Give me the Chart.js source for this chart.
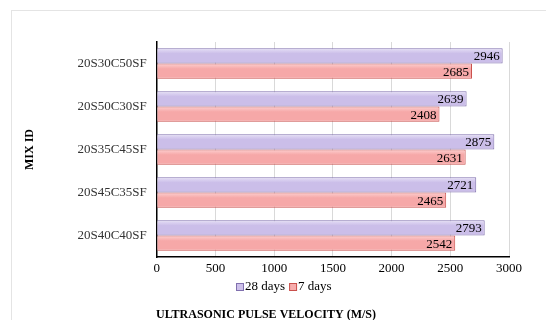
<!DOCTYPE html>
<html>
<head>
<meta charset="utf-8">
<script src="https://cdn.jsdelivr.net/npm/chart.js@4/dist/chart.umd.min.js"></script>
<style>
  html, body { margin: 0; padding: 0; background: #ffffff; }
  #wrap { width: 546px; height: 320px; position: relative; }
</style>
</head>
<body>
<div id="wrap"><canvas id="c" width="546" height="320"></canvas></div>
<script>
const mixIds = ['20S30C50SF', '20S50C30SF', '20S35C45SF', '20S45C35SF', '20S40C40SF'];
const days28 = [2946, 2639, 2875, 2721, 2793];
const days7 = [2685, 2408, 2631, 2465, 2542];
const xTicks = [0, 500, 1000, 1500, 2000, 2500, 3000];

const serif = '"Liberation Serif", "Times New Roman", serif';
const CAT_PCT = 0.71;

// Light frame around the whole figure
const framePlugin = {
  id: 'frame',
  beforeDraw(chart) {
    const ctx = chart.ctx;
    ctx.save();
    ctx.strokeStyle = '#e4e4e4';
    ctx.lineWidth = 1;
    ctx.strokeRect(11.5, 10.5, 700, 400);
    ctx.restore();
  }
};

// Value labels drawn inside the end of each bar
const valueLabels = {
  id: 'valueLabels',
  afterDatasetsDraw(chart) {
    const ctx = chart.ctx;
    ctx.save();
    ctx.font = '13px ' + serif;
    ctx.fillStyle = '#000';
    ctx.textAlign = 'right';
    ctx.textBaseline = 'middle';
    chart.data.datasets.forEach((ds, i) => {
      chart.getDatasetMeta(i).data.forEach((bar, j) => {
        ctx.fillText(String(ds.data[j]), bar.x - 3, bar.y + 1);
      });
    });
    ctx.restore();
  }
};

// Compact series key placed between the tick labels and the axis title
const seriesKey = {
  id: 'seriesKey',
  afterDraw(chart) {
    const ctx = chart.ctx;
    const box = 7, gapText = 1, gapItem = 5;
    ctx.save();
    ctx.font = '13px ' + serif;
    ctx.textBaseline = 'middle';
    ctx.textAlign = 'left';
    const items = chart.data.datasets.map(ds => ({
      text: ds.label, fill: ds.keyColor, stroke: ds.borderColor,
      w: box + gapText + ctx.measureText(ds.label).width
    }));
    const total = items.reduce((s, it) => s + it.w, 0) + gapItem * (items.length - 1);
    let x = Math.round(283 - total / 2);
    const y = Math.round(chart.chartArea.bottom + 29);
    items.forEach(it => {
      const top = Math.round(y - box / 2) + 0.5;
      ctx.fillStyle = it.fill;
      ctx.strokeStyle = it.stroke;
      ctx.lineWidth = 1;
      ctx.fillRect(x + 0.5, top, box, box);
      ctx.strokeRect(x + 0.5, top, box, box);
      ctx.fillStyle = '#000';
      ctx.fillText(it.text, x + box + gapText + 1, y + 1);
      x += it.w + gapItem;
    });
    ctx.restore();
  }
};

// Vertical shading across each bar, from the category band that the y scale gives
function barShade(top, bottom) {
  return (c) => {
    const chart = c.chart;
    const ys = chart.scales.y;
    if (!ys || c.dataIndex === undefined || !isFinite(ys.height) || ys.height <= 0) return bottom;
    const band = ys.height / chart.data.labels.length;
    const t = band * CAT_PCT / chart.data.datasets.length;
    const centre = ys.getPixelForValue(c.dataIndex);
    const y0 = centre - band * CAT_PCT / 2 + t * c.datasetIndex;
    const g = chart.ctx.createLinearGradient(0, y0, 0, y0 + t);
    g.addColorStop(0, top);
    g.addColorStop(0.35, bottom);
    g.addColorStop(1, bottom);
    return g;
  };
}

new Chart(document.getElementById('c'), {
  type: 'bar',
  data: {
    labels: mixIds,
    datasets: [
      {
        label: '28 days',
        data: days28,
        keyColor: '#cdc0ea',
        backgroundColor: barShade('#e6e0f6', '#cbbee9'),
        borderColor: '#8070ae',
        borderWidth: 1,
        borderSkipped: 'left'
      },
      {
        label: '7 days',
        data: days7,
        keyColor: '#f7adad',
        backgroundColor: barShade('#fdd0d0', '#f6a8a8'),
        borderColor: '#c9504c',
        borderWidth: 1,
        borderSkipped: 'left'
      }
    ]
  },
  options: {
    indexAxis: 'y',
    responsive: false,
    animation: false,
    devicePixelRatio: 1,
    layout: { padding: { top: 42, right: 37, left: 23, bottom: -2 } },
    datasets: {
      bar: { categoryPercentage: CAT_PCT, barPercentage: 1.0 }
    },
    scales: {
      x: {
        min: 0,
        max: 3000,
        afterBuildTicks(scale) { scale.ticks = xTicks.map(v => ({ value: v })); },
        grid: { color: '#d9d9d9', drawTicks: false },
        border: { color: '#000', width: 1.5 },
        ticks: {
          color: '#000',
          padding: 4,
          font: { family: serif, size: 13 },
          callback: v => String(v)
        }
      },
      y: {
        grid: { display: false, drawTicks: false },
        border: { color: '#000', width: 1.5 },
        ticks: { color: '#333', padding: 10, font: { family: serif, size: 13 } },
        title: {
          display: true,
          text: 'MIX ID',
          color: '#000',
          padding: { top: 0, bottom: 30 },
          font: { family: serif, size: 12, weight: 'bold' }
        }
      }
    },
    plugins: {
      legend: { display: false },
      title: {
        display: true,
        position: 'bottom',
        text: 'ULTRASONIC PULSE VELOCITY (M/S)',
        color: '#000',
        padding: { top: 27, bottom: 0 },
        font: { family: serif, size: 12, weight: 'bold' }
      },
      tooltip: { enabled: false }
    }
  },
  plugins: [framePlugin, valueLabels, seriesKey]
});
</script>
</body>
</html>
